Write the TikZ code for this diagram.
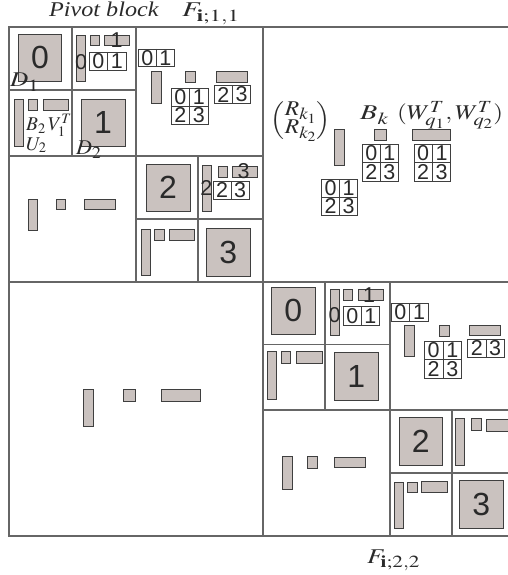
\documentclass[tikz,border=0pt]{standalone}
\usepackage{amsmath}
\usepackage{mathptmx}
\usepackage[no-math]{fontspec}
\usepackage{graphicx}
\setmainfont{Liberation Serif}
\newfontfamily\digfont{Liberation Sans}
\DeclareMathSizes{21}{21}{17}{14}
\definecolor{frameC}{HTML}{666666}
\definecolor{blkD}{HTML}{3F3F3F}
\definecolor{blkF}{HTML}{CAC2BF}
\definecolor{txtC}{HTML}{2A2A2A}
\tikzset{
  frame/.style={draw=frameC, line width=1.2pt},
  blk/.style={draw=blkD, fill=blkF, line width=0.9pt},
  cellbox/.style={draw=blkD, line width=0.9pt},
  dig/.style={font=\digfont\fontsize{21.5}{21.5}\selectfont, inner sep=0pt, text=txtC},
  bigdig/.style={font=\digfont\fontsize{32}{32}\selectfont, inner sep=0pt, text=txtC},
  lab/.style={font=\fontsize{21}{22}\selectfont, inner sep=0pt, anchor=base west, text=txtC},
}
\newcounter{nn}
% named digit node: [style]{x,y}{text}
\newcommand{\dnode}[3][dig]{\stepcounter{nn}\edef\mkn{\noexpand\node[#1] (n\arabic{nn}) at (#2)}\mkn {#3};}
% filled block
\newcommand{\rb}[4]{\draw[blk] (#1,#2) rectangle (#3,#4);}
% big square with digit
\newcommand{\bigsq}[5]{\rb{#1}{#2}{#3}{#4}\dnode[bigdig]{{(#1+#3)/2},{(#2+#4)/2}}{#5}}
% two-cell grid
\newcommand{\gridtwo}[6]{%
  \draw[cellbox] (#1,#2) rectangle (#3,#4);
  \draw[cellbox] ({(#1+#3)/2},#2) -- ({(#1+#3)/2},#4);
  \dnode{{(3*#1+#3)/4},{(#2+#4)/2}}{#5}
  \dnode{{(#1+3*#3)/4},{(#2+#4)/2}}{#6}}
% four-cell grid
\newcommand{\gridfour}[4]{%
  \draw[cellbox] (#1,#2) rectangle (#3,#4);
  \draw[cellbox] ({(#1+#3)/2},#2) -- ({(#1+#3)/2},#4);
  \draw[cellbox] (#1,{(#2+#4)/2}) -- (#3,{(#2+#4)/2});
  \dnode{{(3*#1+#3)/4},{(3*#2+#4)/4}}{0}
  \dnode{{(#1+3*#3)/4},{(3*#2+#4)/4}}{1}
  \dnode{{(3*#1+#3)/4},{(#2+3*#4)/4}}{2}
  \dnode{{(#1+3*#3)/4},{(#2+3*#4)/4}}{3}}
\newcommand{\wide}[2]{\scalebox{#1}[1]{#2}}
\begin{document}
\begin{tikzpicture}[x=1pt,y=-1pt]
\useasboundingbox (0,0) rectangle (508,575);
\begin{scope}
\clip (0,0) rectangle (508,575);
% ---------- frame and partition lines ----------
\draw[frame] (9,27) rectangle (517,536);
\draw[frame] (263,27) -- (263,536);
\draw[frame] (9,282) -- (517,282);
\draw[frame] (136,27) -- (136,282);
\draw[frame] (9,156) -- (263,156);
\draw[frame] (72,27) -- (72,156);
\draw[frame] (9,90) -- (136,90);
\draw[frame] (198,156) -- (198,282);
\draw[frame] (136,219) -- (263,219);
\draw[frame] (390,282) -- (390,536);
\draw[frame] (263,410) -- (517,410);
\draw[frame] (325,282) -- (325,410);
\draw[frame] (263,344.5) -- (390,344.5);
\draw[frame] (452,410) -- (452,536);
\draw[frame] (390,473) -- (517,473);

% ---------- top-left quadrant (pivot block) ----------
\bigsq{18.3}{34.3}{61.7}{81}{0}
\rb{76.7}{35}{85.7}{81}
\rb{90}{35}{99}{45}
\rb{104}{35}{129}{45}
\gridtwo{89}{52}{126}{70}{0}{1}
\dnode{81.2,62}{0}
\dnode{116.5,40}{1}
\rb{14.3}{99}{23.3}{146}
\rb{28.3}{99}{37}{110}
\rb{43.3}{99}{68.3}{110}
\bigsq{81}{99}{125}{146.5}{1}
\gridtwo{138.3}{49}{174.3}{66.7}{0}{1}
\rb{151.7}{71}{161}{103.3}
\rb{185.7}{71}{195}{82.7}
\rb{216}{71.7}{247.3}{82.3}
\gridfour{171}{88.3}{208.3}{124.3}
\gridtwo{214.3}{85.7}{250.7}{103.3}{2}{3}
\rb{28.3}{199}{37.7}{230}
\rb{56.7}{199}{65}{209.3}
\rb{84.3}{199.3}{115}{209.3}
\bigsq{146}{164}{190}{211}{2}
\rb{202}{165}{211.2}{211.7}
\rb{218.3}{166}{227.5}{177}
\rb{232.7}{166}{257.7}{177}
\gridtwo{213.3}{181.5}{249}{199}{2}{3}
\dnode{206.4,188.3}{2}
\dnode{243.6,171.5}{3}
\rb{141}{229}{150.7}{275.7}
\rb{154.3}{229}{164}{240}
\rb{169}{229}{194}{240}
\bigsq{206.7}{228}{250}{276}{3}

% ---------- top-right quadrant ----------
\rb{334.3}{129.3}{344.3}{165}
\rb{374.3}{129.3}{386}{140.7}
\rb{412.7}{129.3}{450.7}{140.7}
\gridfour{362.3}{144.3}{398.3}{181}
\gridfour{414}{144.3}{450.7}{181}
\gridfour{321.7}{179.3}{357.7}{215}

% ---------- bottom-left quadrant ----------
\rb{83.3}{389.3}{93.3}{426}
\rb{123.3}{389.3}{135}{401.7}
\rb{161}{389.3}{200}{401.7}

% ---------- bottom-right quadrant ----------
\bigsq{271.7}{287.3}{315}{334.3}{0}
\rb{330}{289.3}{339.3}{335.7}
\rb{343.3}{289.3}{352.7}{300}
\rb{358.3}{289.3}{383.3}{300}
\gridtwo{343.3}{306.7}{379.3}{325}{0}{1}
\dnode{334.6,315}{0}
\dnode{369,295}{1}
\rb{267.3}{351.7}{276.7}{399}
\rb{281}{351.7}{290.7}{363.3}
\rb{296.7}{351.7}{322.3}{363.3}
\bigsq{334.3}{352.3}{378.3}{400}{1}
\gridtwo{391}{303.3}{428.3}{321.7}{0}{1}
\rb{404.3}{325}{414.3}{356.7}
\rb{439.3}{325}{449}{336}
\rb{469.3}{325}{500.7}{335.7}
\gridfour{424.3}{341}{461.7}{378.3}
\gridtwo{467.7}{339}{504.3}{357.3}{2}{3}
\rb{282.3}{456.7}{292.7}{489}
\rb{307.3}{456.7}{317.7}{468.3}
\rb{334}{457.7}{365}{467.7}
\bigsq{399}{417.7}{442.7}{465.7}{2}
\rb{455}{418.3}{464.3}{465}
\rb{471}{418.3}{481}{430}
\rb{486}{419.3}{525}{431}
\rb{394}{482.3}{403.3}{528.3}
\rb{407.3}{482.3}{417}{492.7}
\rb{421.7}{481.7}{447.3}{492.7}
\bigsq{459.3}{480.7}{503.3}{528.3}{3}
\end{scope}

% ---------- labels ----------
\node[lab] (title) at (49,17) {\wide{1.15}{\textit{Pivot block}}};
\node[lab] (fpiv) at (182,17) {\wide{1.36}{$F_{\mathbf{i};1,1}$}};
\node[lab] (fbot) at (367,563) {\wide{1.25}{$F_{\mathbf{i};2,2}$}};
\node[lab] (d1) at (10,87) {\wide{1.2}{$D_1$}};
\node[lab] (d2) at (76,154) {\wide{1.05}{$D_2$}};
\node[lab, font=\fontsize{19.5}{21}\selectfont] (bv) at (26,131) {$B_2\,V_1^T$};
\node[lab, font=\fontsize{19.5}{21}\selectfont] (u2) at (26,150) {$U_2$};
\node[lab, anchor=center] (rk) at (300.8,121) {\wide{1.12}{$\begin{pmatrix}R_{k_1}\\[-5pt] R_{k_2}\end{pmatrix}$}};
\node[lab] (bk) at (360,120) {\wide{1.35}{$B_k$}};
\node[lab] (wq) at (397,120) {\wide{1.2}{$(W_{q_1}^T,W_{q_2}^T)$}};
\end{tikzpicture}
\end{document}
